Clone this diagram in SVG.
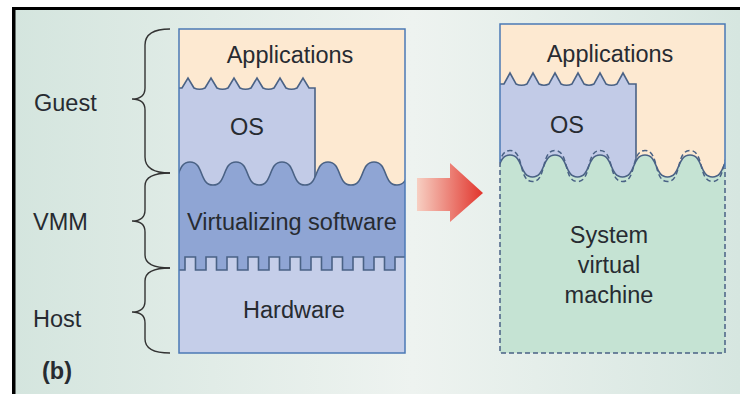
<svg xmlns="http://www.w3.org/2000/svg" width="740" height="394" viewBox="0 0 740 394">
<defs>
<linearGradient id="bg" x1="0" y1="0" x2="1" y2="0">
<stop offset="0" stop-color="#d4e5de"/>
<stop offset="0.55" stop-color="#eef3f0"/>
<stop offset="1" stop-color="#d6e6e0"/>
</linearGradient>
<linearGradient id="arr" x1="0" y1="0" x2="1" y2="0">
<stop offset="0" stop-color="#f7cfc2"/>
<stop offset="1" stop-color="#e1342c"/>
</linearGradient>
<clipPath id="cl"><rect x="179" y="29" width="226" height="324"/></clipPath>
<clipPath id="cr"><rect x="500" y="24" width="225" height="329"/></clipPath>
</defs>
<style>
.t{font-family:"Liberation Sans",Arial,sans-serif;font-size:23.5px;fill:#272b31}
.c{text-anchor:middle}
.br{fill:none;stroke:#333;stroke-width:1.4}
.ln{fill:none;stroke:#4a6285;stroke-width:1.6}
.bd{fill:none;stroke:#4b79b5;stroke-width:1.5}
.dsh{fill:none;stroke:#4a6285;stroke-width:1.5;stroke-dasharray:5 3}
</style>
<rect width="740" height="394" fill="#fff"/>
<rect x="12" y="7" width="728" height="387" fill="url(#bg)"/>
<rect x="12" y="7" width="728" height="3" fill="#000"/>
<rect x="12" y="7" width="3.5" height="387" fill="#000"/>

<g id="labels">
<text class="t" x="34" y="111">Guest</text>
<text class="t" x="33" y="230">VMM</text>
<text class="t" x="33" y="327">Host</text>
<text class="t" x="42" y="379" style="font-weight:bold">(b)</text>
</g>

<g id="braces">
<path class="br" d="M170,29 Q145,29 145,45 L145,88 Q145,99 132,99 Q145,99 145,110 L145,157 Q145,173 170,173"/>
<path class="br" d="M170,173 Q145,173 145,186 L145,210 Q145,221 132,221 Q145,221 145,232 L145,255 Q145,268 170,268"/>
<path class="br" d="M170,268 Q145,268 145,281 L145,301 Q145,312 132,312 Q145,312 145,323 L145,339 Q145,353 170,353"/>
</g>

<g id="left-stack">
<g clip-path="url(#cl)">
<rect x="179" y="29" width="226" height="324" fill="#fde9d1"/>
<path d="M179,88 L182,88 L188,78 L194,88 Q199.5,90.5 205,88 L211,78 L217,88 Q222.5,90.5 228,88 L234,78 L240,88 Q245.5,90.5 251,88 L257,78 L263,88 Q268.5,90.5 274,88 L280,78 L286,88 Q291.5,90.5 297,88 L303,78 L309,88 L315,88 L315,200 L179,200 Z" fill="#c2cbe7"/>
<path class="ln" d="M179,88 L182,88 L188,78 L194,88 Q199.5,90.5 205,88 L211,78 L217,88 Q222.5,90.5 228,88 L234,78 L240,88 Q245.5,90.5 251,88 L257,78 L263,88 Q268.5,90.5 274,88 L280,78 L286,88 Q291.5,90.5 297,88 L303,78 L309,88 L315,88 L315,190"/>
<path d="M144,162 C158,162 153,185 167,185 C181,185 176,162 190,162 C204,162 199,185 213,185 C227,185 222,162 236,162 C250,162 245,185 259,185 C273,185 268,162 282,162 C296,162 291,185 305,185 C319,185 314,162 328,162 C342,162 337,185 351,185 C365,185 360,162 374,162 C388,162 383,185 397,185 C411,185 406,162 420,162 L420,353 L144,353 Z" fill="#8fa5d4"/>
<path class="ln" d="M144,162 C158,162 153,185 167,185 C181,185 176,162 190,162 C204,162 199,185 213,185 C227,185 222,162 236,162 C250,162 245,185 259,185 C273,185 268,162 282,162 C296,162 291,185 305,185 C319,185 314,162 328,162 C342,162 337,185 351,185 C365,185 360,162 374,162 C388,162 383,185 397,185 C411,185 406,162 420,162"/>
<path d="M179,270 H185 V257 H195.5 V270 H206 V257 H216.5 V270 H227 V257 H237.5 V270 H248 V257 H258.5 V270 H269 V257 H279.5 V270 H290 V257 H300.5 V270 H311 V257 H321.5 V270 H332 V257 H342.5 V270 H353 V257 H363.5 V270 H374 V257 H384.5 V270 H395 V257 H405 V353 H179 Z" fill="#c5cee9"/>
<path class="ln" d="M179,270 H185 V257 H195.5 V270 H206 V257 H216.5 V270 H227 V257 H237.5 V270 H248 V257 H258.5 V270 H269 V257 H279.5 V270 H290 V257 H300.5 V270 H311 V257 H321.5 V270 H332 V257 H342.5 V270 H353 V257 H363.5 V270 H374 V257 H384.5 V270 H395 V257 H405"/>
</g>
<rect class="bd" x="179" y="29" width="226" height="324"/>
<text class="t c" x="290" y="63">Applications</text>
<text class="t c" x="247" y="135">OS</text>
<text class="t c" x="292" y="230">Virtualizing software</text>
<text class="t c" x="294" y="318">Hardware</text>
</g>

<g id="arrow">
<polygon points="417,178 450,178 450,163 483,193 450,222 450,211 417,211" fill="url(#arr)"/>
</g>

<g id="right-stack">
<g clip-path="url(#cr)">
<rect x="500" y="24" width="225" height="329" fill="#fde9d1"/>
<path d="M500,84 L504,84 L510,73 L516,84 Q521.5,86.5 527,84 L533,73 L539,84 Q544,86.5 549,84 L555,73 L561,84 Q566.5,86.5 572,84 L578,73 L584,84 Q589,86.5 594,84 L600,73 L606,84 Q611.5,86.5 617,84 L623,73 L629,84 L636,84 L636,200 L500,200 Z" fill="#c2cbe7"/>
<path class="ln" d="M500,84 L504,84 L510,73 L516,84 Q521.5,86.5 527,84 L533,73 L539,84 Q544,86.5 549,84 L555,73 L561,84 Q566.5,86.5 572,84 L578,73 L584,84 Q589,86.5 594,84 L600,73 L606,84 Q611.5,86.5 617,84 L623,73 L629,84 L636,84 L636,180"/>
<path d="M465,155 C478.5,155 474,177 487.5,177 C501,177 496.5,155 510,155 C523.5,155 519,177 532.5,177 C546,177 541.5,155 555,155 C568.5,155 564,177 577.5,177 C591,177 586.5,155 600,155 C613.5,155 609,177 622.5,177 C636,177 631.5,155 645,155 C658.5,155 654,177 667.5,177 C681,177 676.5,155 690,155 C703.5,155 699,177 712.5,177 C726,177 721.5,155 735,155 L735,353 L465,353 Z" fill="#c5e3d3"/>
<path class="ln" d="M465,155 C478.5,155 474,177 487.5,177 C501,177 496.5,155 510,155 C523.5,155 519,177 532.5,177 C546,177 541.5,155 555,155 C568.5,155 564,177 577.5,177 C591,177 586.5,155 600,155 C613.5,155 609,177 622.5,177 C636,177 631.5,155 645,155 C658.5,155 654,177 667.5,177 C681,177 676.5,155 690,155 C703.5,155 699,177 712.5,177 C726,177 721.5,155 735,155"/>
<path class="dsh" d="M465,150.5 C479.5,150.5 473,181.5 487.5,181.5 C502,181.5 495.5,150.5 510,150.5 C524.5,150.5 518,181.5 532.5,181.5 C547,181.5 540.5,150.5 555,150.5 C569.5,150.5 563,181.5 577.5,181.5 C592,181.5 585.5,150.5 600,150.5 C614.5,150.5 608,181.5 622.5,181.5 C637,181.5 630.5,150.5 645,150.5 C659.5,150.5 653,181.5 667.5,181.5 C682,181.5 675.5,150.5 690,150.5 C704.5,150.5 698,181.5 712.5,181.5 C727,181.5 720.5,150.5 735,150.5"/>
</g>
<path class="bd" d="M500,162 V24 H725 V168"/>
<path class="dsh" d="M500,162 V353 H725 V168"/>
<text class="t c" x="610" y="62">Applications</text>
<text class="t c" x="567" y="133">OS</text>
<text class="t c" x="609" y="243">System</text>
<text class="t c" x="609" y="273">virtual</text>
<text class="t c" x="609" y="303">machine</text>
</g>
</svg>
